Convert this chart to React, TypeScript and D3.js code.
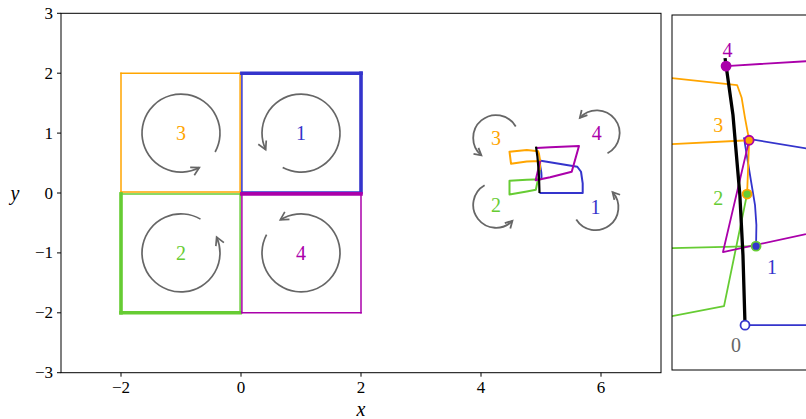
import React from "react";
import * as d3 from "d3";

const W = 806;
const H = 419;

// axis ticks of the main panel
const xTicks = [-2, 0, 2, 4, 6];
const yTicks = [-3, -2, -1, 0, 1, 2, 3];

// cells, in order 1..4
const cellIds = ["1", "2", "3", "4"];
const cellColors = ["#3434cc", "#66cc33", "#ffa500", "#aa00aa"];
const gray = "#666666";

// reference squares (left part)
const squareX = [[0.015, 2], [-2, -0.015], [-2, -0.015], [0.015, 2]];
const squareY = [[0.015, 2], [-2, -0.015], [0.015, 2], [-2, -0.015]];
const squareThick = [["top", "right"], ["left", "bottom"], [], ["top"]];

// rotation arrows in the squares (degrees, counter-clockwise)
const bigArrowCenter = [[1, 1], [-1, -1], [-1, 1], [1, -1]];
const bigArrowFrom = [242, 60, -29, 152];
const bigArrowTo = [565, 384, 298, 482];
const bigArrowR = 0.65;

// rotation arrows around the deformed cells
const smallArrowCenter = [[5.91, -0.24], [4.25, -0.2], [4.25, 0.92], [5.93, 1.0]];
const smallArrowFrom = [212, 120, 30, -62];
const smallArrowTo = [402, 316, 230, 138];
const smallArrowR = 0.38;

// deformed cell outlines
const cell1Path = [[5.007, 0.229], [5.008, 0.29], [5.004, 0.348], [4.992, 0.42], [4.972, 0.542], [5.605, 0.438], [5.667, 0.355], [5.695, 0.16], [5.695, 0.0], [4.975, 0.0]];
const cell2Path = [[5.007, 0.229], [4.763, 0.223], [4.475, 0.205], [4.475, -0.025], [4.763, 0.026], [4.914, 0.055], [4.981, 0.38]];
const cell3Path = [[4.981, 0.38], [4.987, 0.536], [4.763, 0.525], [4.5, 0.49], [4.475, 0.69], [4.763, 0.716], [4.952, 0.696], [4.965, 0.66], [4.975, 0.6], [4.987, 0.536]];
const cell4Path = [[4.92, 0.751], [5.152, 0.765], [5.633, 0.783], [5.512, 0.355], [5.152, 0.264], [4.911, 0.212], [4.987, 0.536]];
const cellPaths = [cell1Path, cell2Path, cell3Path, cell4Path];

// black spine
const spine = [[4.917, 0.774], [4.94, 0.609], [4.96, 0.377], [4.969, 0.203], [4.975, 0.0]];

// junction vertices 0..4 (zoom panel)
const vertexIds = ["0", "1", "2", "3", "4"];
const vertexX = [4.975, 5.007, 4.981, 4.987, 4.92];
const vertexY = [0.0, 0.229, 0.38, 0.536, 0.751];
const vertexEdge = [cellColors[0], cellColors[1], cellColors[2], cellColors[3], cellColors[3]];
const vertexFill = ["white", cellColors[0], cellColors[1], cellColors[2], cellColors[3]];
const vertexLabelX = [4.949, 5.053, 4.897, 4.897, 4.924];
const vertexLabelY = [-0.058, 0.168, 0.368, 0.58, 0.797];
const vertexLabelColor = [gray, cellColors[0], cellColors[1], cellColors[2], cellColors[3]];

const serif = "Liberation Serif, Times New Roman, DejaVu Serif, serif";

function arcArrow(cx: number, cy: number, r: number, a0: number, a1: number,
  sx: d3.ScaleLinear<number, number>, sy: d3.ScaleLinear<number, number>, head: number) {
  const X = sx(cx), Y = sy(cy);
  const rp = sx(cx + r) - sx(cx);
  const t0 = (-a0 * Math.PI) / 180;
  const t1 = (-a1 * Math.PI) / 180;
  const p = d3.path();
  p.moveTo(X + rp * Math.cos(t0), Y + rp * Math.sin(t0));
  p.arc(X, Y, rp, t0, t1, true);
  const ex = X + rp * Math.cos(t1), ey = Y + rp * Math.sin(t1);
  const dx = Math.sin(t1), dy = -Math.cos(t1);
  const w = head * 0.55;
  const h = d3.path();
  h.moveTo(ex - head * dx + w * dy, ey - head * dy - w * dx);
  h.lineTo(ex, ey);
  h.lineTo(ex - head * dx - w * dy, ey - head * dy + w * dx);
  return { arc: p.toString(), head: h.toString() };
}

const txt = { fontFamily: serif };

export default function App() {
  const x = d3.scaleLinear().domain([-3, 7]).range([61, 661]);
  const y = d3.scaleLinear().domain([-3, 3]).range([372.7, 13.3]);

  // zoomed panel, same units
  const xR = d3.scaleLinear().domain([4.763, 5.152]).range([672, 806]);
  const yR = d3.scaleLinear().domain([-0.13, 0.899]).range([370, 15]);

  const lineM = d3.line<number[]>().x(d => x(d[0])).y(d => y(d[1]));
  const lineR = d3.line<number[]>().x(d => xR(d[0])).y(d => yR(d[1]));

  const fmt = (v: number) => (v < 0 ? "\u2212" + Math.abs(v) : String(v));

  const squares = cellIds.map((id, i) => {
    const [x0, x1] = squareX[i];
    const [y0, y1] = squareY[i];
    const edges: Record<string, number[]> = {
      top: [x0, y1, x1, y1],
      right: [x1, y1, x1, y0],
      bottom: [x1, y0, x0, y0],
      left: [x0, y0, x0, y1],
    };
    return Object.keys(edges).map(k => {
      const e = edges[k];
      const thick = squareThick[i].includes(k);
      return (
        <line key={id + k} x1={x(e[0])} y1={y(e[1])} x2={x(e[2])} y2={y(e[3])}
          stroke={cellColors[i]} strokeWidth={thick ? 3.6 : 1.5} strokeLinecap="square" />
      );
    });
  });
  const drawOrder = [2, 1, 0, 3];

  const panelRight = xR(5.3);

  return (
    <svg width={W} height={H} style={{ position: "absolute", left: 0, top: 0, background: "white" }}>
      <defs>
        <clipPath id="zoomClip">
          <rect x={672} y={15} width={panelRight - 672} height={355} />
        </clipPath>
      </defs>

      {/* main panel */}
      <g>
        {drawOrder.map(i => <g key={"sq" + i}>{squares[i]}</g>)}
        {cellIds.map((id, i) => {
          const a = arcArrow(bigArrowCenter[i][0], bigArrowCenter[i][1], bigArrowR,
            bigArrowFrom[i], bigArrowTo[i], x, y, 8);
          return (
            <g key={"ba" + id} fill="none" stroke={gray} strokeWidth={1.7}>
              <path d={a.arc} />
              <path d={a.head} />
            </g>
          );
        })}
        {cellIds.map((id, i) => (
          <text key={"bl" + id} x={x(bigArrowCenter[i][0])} y={y(bigArrowCenter[i][1])} style={txt}
            fill={cellColors[i]} fontSize={20} textAnchor="middle" dominantBaseline="central">{id}</text>
        ))}

        {cellPaths.map((p, i) => (
          <path key={"cm" + i} d={lineM(p) || ""} fill="none" stroke={cellColors[i]}
            strokeWidth={2} strokeLinejoin="round" />
        ))}
        <path d={lineM(spine) || ""} fill="none" stroke="black" strokeWidth={2.2} />

        {cellIds.map((id, i) => {
          const a = arcArrow(smallArrowCenter[i][0], smallArrowCenter[i][1], smallArrowR,
            smallArrowFrom[i], smallArrowTo[i], x, y, 7);
          return (
            <g key={"sa" + id} fill="none" stroke={gray} strokeWidth={1.8}>
              <path d={a.arc} />
              <path d={a.head} />
            </g>
          );
        })}
        {cellIds.map((id, i) => (
          <text key={"sl" + id} x={x(smallArrowCenter[i][0])} y={y(smallArrowCenter[i][1])} style={txt}
            fill={cellColors[i]} fontSize={20} textAnchor="middle" dominantBaseline="central">{id}</text>
        ))}

        {/* frame and ticks */}
        <rect x={x(-3)} y={y(3)} width={x(7) - x(-3)} height={y(-3) - y(3)}
          fill="none" stroke="black" strokeWidth={1} />
        {xTicks.map(t => (
          <g key={"xt" + t}>
            <line x1={x(t)} x2={x(t)} y1={y(-3)} y2={y(-3) + 4} stroke="black" />
            <text x={x(t)} y={y(-3) + 15} fontSize={17} textAnchor="middle" style={txt}
              dominantBaseline="central">{fmt(t)}</text>
          </g>
        ))}
        {yTicks.map(t => (
          <g key={"yt" + t}>
            <line x1={x(-3) - 4} x2={x(-3)} y1={y(t)} y2={y(t)} stroke="black" />
            <text x={x(-3) - 8} y={y(t)} fontSize={17} textAnchor="end" style={txt}
              dominantBaseline="central">{fmt(t)}</text>
          </g>
        ))}
        <text x={x(2)} y={409} fontSize={20} fontStyle="italic" textAnchor="middle" style={txt}
          dominantBaseline="central">x</text>
        <text x={15} y={y(0)} fontSize={20} fontStyle="italic" textAnchor="middle" style={txt}
          dominantBaseline="central">y</text>
      </g>

      {/* zoomed panel */}
      <g>
        <g clipPath="url(#zoomClip)">
          {cellPaths.map((p, i) => (
            <path key={"cr" + i} d={lineR(p) || ""} fill="none" stroke={cellColors[i]}
              strokeWidth={1.8} strokeLinejoin="round" />
          ))}
          <path d={lineR(spine) || ""} fill="none" stroke="black" strokeWidth={3.3} />
          {vertexIds.map((id, i) => (
            <circle key={"v" + id} cx={xR(vertexX[i])} cy={yR(vertexY[i])} r={4.5}
              fill={vertexFill[i]} stroke={vertexEdge[i]} strokeWidth={1.8} />
          ))}
          {vertexIds.map((id, i) => (
            <text key={"vl" + id} x={xR(vertexLabelX[i])} y={yR(vertexLabelY[i])} style={txt}
              fill={vertexLabelColor[i]} fontSize={20} textAnchor="middle"
              dominantBaseline="central">{id}</text>
          ))}
        </g>
        <rect x={672} y={15} width={panelRight - 672} height={355} fill="none"
          stroke="black" strokeWidth={1} />
      </g>
    </svg>
  );
}
